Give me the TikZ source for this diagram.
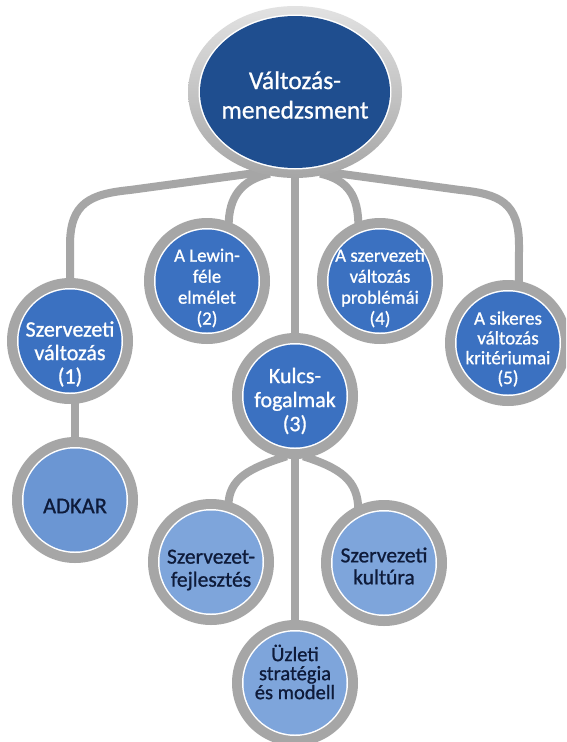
\documentclass[tikz,border=0pt]{standalone}
\usepackage{fontspec}
\setmainfont{Carlito}[FakeBold=0.9]
\usetikzlibrary{shapes.geometric,backgrounds}

\definecolor{ringgray}{HTML}{A6A6A6}
\definecolor{ringlight}{HTML}{E2E2E2}
\definecolor{topblue}{HTML}{1F4E8F}
\definecolor{midblue}{HTML}{3B71C1}
\definecolor{paleblue}{HTML}{7EA5DB}
\definecolor{adkarblue}{HTML}{6B96D3}
\definecolor{inktext}{HTML}{0E1B3A}

\tikzset{
  % grey ring with a thin white edge around a coloured disc
  disc/.style={circle, inner sep=0pt, minimum size=126pt, fill=ringgray,
    path picture={
      \fill[white] (path picture bounding box.center) circle [radius=53pt];
      \fill[#1] (path picture bounding box.center) circle [radius=51.5pt];
    }},
  hub/.style={ellipse, inner sep=0pt, minimum width=214pt, minimum height=172pt,
    top color=ringlight, middle color=ringgray, bottom color=ringgray,
    path picture={
      \fill[white] (path picture bounding box.center) ellipse [x radius=96.5pt, y radius=77.5pt];
      \fill[topblue] (path picture bounding box.center) ellipse [x radius=95pt, y radius=76pt];
    }},
  lbl/.style={align=center, inner sep=0pt, text=white},
  lbldark/.style={align=center, inner sep=0pt, text=inktext},
  conn/.style={draw=ringgray, line width=8pt, shorten <=-5pt, shorten >=-5pt},
}

\begin{document}
\begin{tikzpicture}[x=1pt, y=-1pt]
\useasboundingbox (0,0) rectangle (566,742);
\clip (0,0) rectangle (566,742);

% bubbles
\node[hub] (top) at (295,92) {};
\node[disc=midblue] (n1) at (70,341) {};
\node[disc=midblue] (n2) at (207,281) {};
\node[disc=midblue] (n3) at (295,396) {};
\node[disc=midblue] (n4) at (380,281) {};
\node[disc=midblue] (n5) at (508,343) {};
\node[disc=adkarblue] (adkar) at (75,500) {};
\node[disc=paleblue] (n3a) at (211,562) {};
\node[disc=paleblue] (n3c) at (384,563) {};
\node[disc=paleblue] (n3b) at (295,683) {};

% labels
\node[lbl, font=\fontsize{25.5}{29.5}\selectfont] (ttop) at ([yshift=-3pt]top.center) {Változás-\\menedzsment};
\node[lbl, font=\fontsize{22}{23.5}\selectfont] (t1) at ([yshift=-13pt]n1.center) {Szervezeti\\változás\\(1)};
\node[lbl, font=\fontsize{18.8}{21}\selectfont] (t2) at ([yshift=-7pt]n2.center) {A Lewin-\\féle\\elmélet\\(2)};
\node[lbl, font=\fontsize{22}{24}\selectfont] (t3) at ([yshift=-5pt]n3.center) {Kulcs-\\fogalmak\\(3)};
\node[lbl, font=\fontsize{18.8}{21}\selectfont] (t4) at ([yshift=-7pt]n4.center) {A szervezeti\\változás\\problémái\\(4)};
\node[lbl, font=\fontsize{19}{19.8}\selectfont] (t5) at ([yshift=-6pt]n5.center) {A sikeres\\változás\\kritériumai\\(5)};
\node[lbldark, font=\fontsize{22.5}{24}\selectfont] (tadkar) at ([yshift=-6pt]adkar.center) {ADKAR};
\node[lbldark, font=\fontsize{21.5}{23}\selectfont] (t3a) at ([yshift=-8pt]n3a.center) {Szervezet-\\fejlesztés};
\node[lbldark, font=\fontsize{21.5}{22}\selectfont] (t3c) at ([yshift=-3pt]n3c.center) {Szervezeti\\kultúra};
\node[lbldark, font=\fontsize{20.5}{19}\selectfont] (t3b) at ([yshift=11pt]n3b.center) {Üzleti\\stratégia\\és modell};

% connectors, behind the bubbles
\begin{scope}[on background layer]
  \fill[white] (0,0) rectangle (566,742);
  \draw[conn] (n1.north) -- (70,245) .. controls (70,203) and (90,194) .. (130,190) -- (top.245);
  \draw[conn] (n5.80) -- (519,245) .. controls (519,203) and (500,194) .. (460,190) -- (top.295);
  \draw[conn] (n2.70) .. controls (228.5,196) and (242,180) .. (top.250);
  \draw[conn] (n4.110) .. controls (358.5,196) and (348,180) .. (top.290);
  \draw[conn] (top.south) -- (n3.north);
  \draw[conn] (adkar.north) -- (adkar.north |- n1.south);
  \draw[conn] (n3a.74) .. controls (228.4,478) and (250,468) .. (n3.258);
  \draw[conn] (n3c.114) .. controls (358.4,480) and (340,468) .. (n3.282);
  \draw[conn] (n3.south) -- (n3b.north);
\end{scope}
\end{tikzpicture}
\end{document}
